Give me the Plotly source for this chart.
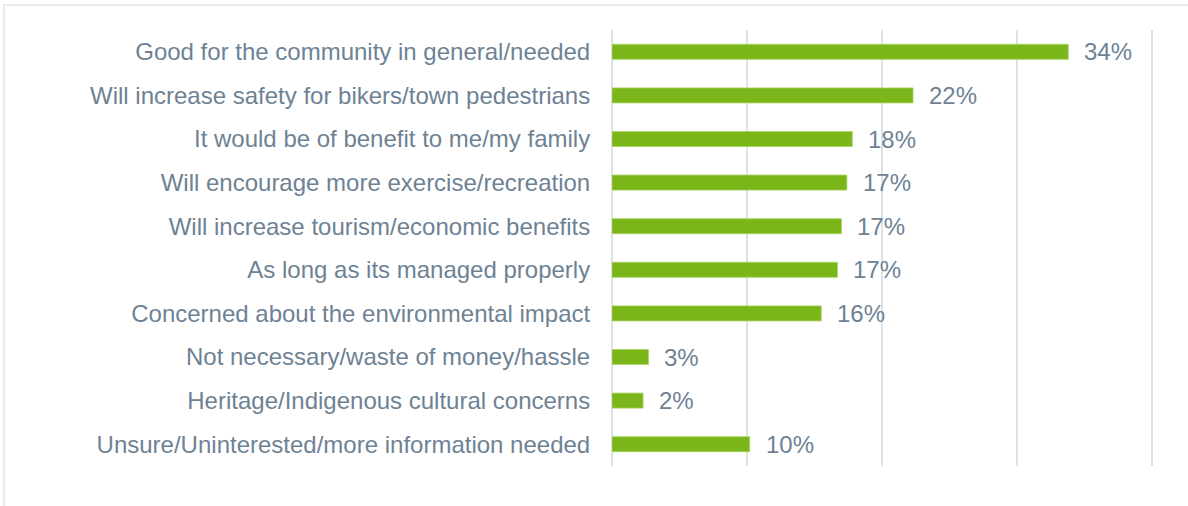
import plotly.graph_objects as go

# survey reasons, top to bottom as shown
categories = [
    "Good for the community in general/needed",
    "Will increase safety for bikers/town pedestrians",
    "It would be of benefit to me/my family",
    "Will encourage more exercise/recreation",
    "Will increase tourism/economic benefits",
    "As long as its managed properly",
    "Concerned about the environmental impact",
    "Not necessary/waste of money/hassle",
    "Heritage/Indigenous cultural concerns",
    "Unsure/Uninterested/more information needed",
]
values = [33.8, 22.3, 17.8, 17.4, 17.0, 16.7, 15.5, 2.7, 2.3, 10.2]
value_labels = ["34%", "22%", "18%", "17%", "17%", "17%", "16%", "3%", "2%", "10%"]

text_color = "#6e8294"
bar_color = "#7ab51a"
grid_color = "#dde2e7"
font_size = 24

W, H = 1188, 506
ml, mr, mt, mb = 612, 32, 30, 40
pw, ph = W - ml - mr, H - mt - mb

fig = go.Figure()

fig.add_trace(go.Bar(
    x=values, y=categories, orientation="h",
    marker=dict(color=bar_color, line=dict(color="#a6d35e", width=0.8)),
    hoverinfo="x+y", showlegend=False,
))

# value labels to the right of each bar
for cat, val, lab in zip(categories, values, value_labels):
    fig.add_annotation(
        x=val, y=cat, text=lab, showarrow=False,
        xanchor="left", yanchor="middle", xshift=14,
        font=dict(size=font_size, color=text_color),
    )

# thin outer frame like the source image (right/bottom edges run off the page)
fig.add_shape(
    type="rect", xref="paper", yref="paper",
    x0=(4 - ml) / pw, x1=(W + 8 - ml) / pw,
    y0=(H - mb - (H + 8)) / ph, y1=(H - mb - 5) / ph,
    line=dict(color="#e2e5e8", width=1.5), layer="below",
)

fig.update_layout(
    width=W, height=H,
    margin=dict(l=ml, r=mr, t=mt, b=mb),
    paper_bgcolor="white", plot_bgcolor="white",
    font=dict(family="Liberation Sans, Arial, sans-serif", size=font_size, color=text_color),
    bargap=0.656,
)
fig.update_xaxes(
    range=[0, 40.3], dtick=10, showticklabels=False,
    showgrid=True, gridcolor=grid_color, gridwidth=1.6,
    zeroline=True, zerolinecolor=grid_color, zerolinewidth=1.6,
    fixedrange=True,
)
fig.update_yaxes(
    autorange="reversed", showgrid=False, showline=False,
    ticks="outside", ticklen=0, ticklabelstandoff=16,
    tickfont=dict(size=font_size, color=text_color),
    fixedrange=True,
)

# drop the default page margin so the figure sits at the window's corner
fig.write_html(
    "out.html",
    config={"displayModeBar": False},
    post_script="document.body.style.margin='0';",
)
